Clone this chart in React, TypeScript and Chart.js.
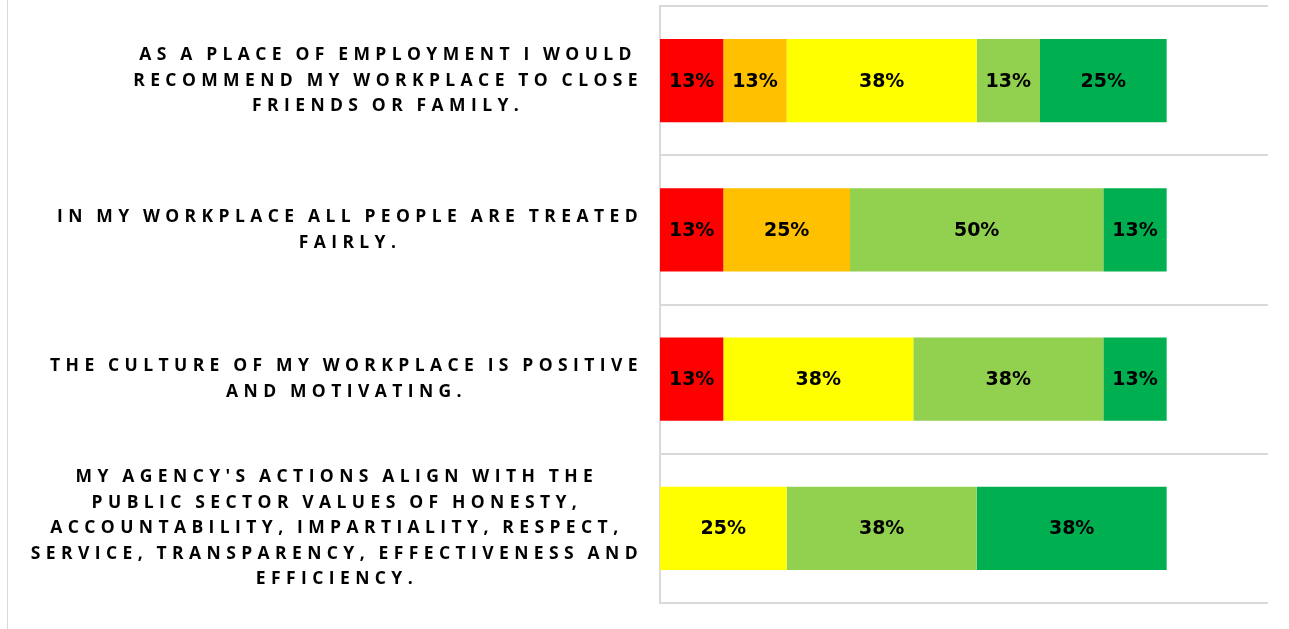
import React, { useEffect, useRef } from "react";
import { Chart, registerables } from "chart.js";

Chart.register(...registerables);

const categoryLines: string[][] = [
  ["AS A PLACE OF EMPLOYMENT I WOULD", "RECOMMEND MY WORKPLACE TO CLOSE", "FRIENDS OR FAMILY."],
  ["IN MY WORKPLACE ALL PEOPLE ARE TREATED", "FAIRLY."],
  ["THE CULTURE OF MY WORKPLACE IS POSITIVE", "AND MOTIVATING."],
  [
    "MY AGENCY'S ACTIONS ALIGN WITH THE",
    "PUBLIC SECTOR VALUES OF HONESTY,",
    "ACCOUNTABILITY, IMPARTIALITY, RESPECT,",
    "SERVICE, TRANSPARENCY, EFFECTIVENESS AND",
    "EFFICIENCY.",
  ],
];

const seriesNames = ["Strongly disagree", "Disagree", "Neutral", "Agree", "Strongly agree"];
const stronglyDisagree = [12.5, 12.5, 12.5, 0];
const disagree = [12.5, 25, 0, 0];
const neutral = [37.5, 0, 37.5, 25];
const agree = [12.5, 50, 37.5, 37.5];
const stronglyAgree = [25, 12.5, 12.5, 37.5];
const seriesColors = ["#FF0000", "#FFC000", "#FFFF00", "#92D050", "#00B050"];
const axisMax = 120;

const LABEL_FONT = "bold 17.5px 'Open Sans'";
const LABEL_SPACING = 5.4;
const WORD_SPACING = -1.5;
const LABEL_LINE = 25.5;
const VALUE_FONT = "bold 19px 'DejaVu Sans'";

const categoryLabelPlugin = {
  id: "categoryLabels",
  afterDraw(chart: any) {
    const { ctx, chartArea } = chart;
    const y = chart.scales.y;
    ctx.save();
    ctx.font = LABEL_FONT;
    (ctx as any).letterSpacing = LABEL_SPACING + "px";
    (ctx as any).wordSpacing = WORD_SPACING + "px";
    ctx.fillStyle = "#000000";
    ctx.textAlign = "center";
    ctx.textBaseline = "middle";
    const right = chartArea.left - 17;
    categoryLines.forEach((lines, i) => {
      const widest = Math.max(...lines.map((l) => ctx.measureText(l).width));
      const cx = right - widest / 2;
      const cy = y.getPixelForValue(i);
      const top = cy - ((lines.length - 1) * LABEL_LINE) / 2;
      lines.forEach((l, j) => ctx.fillText(l, cx, top + j * LABEL_LINE));
    });
    ctx.restore();
  },
};

const valueLabelPlugin = {
  id: "valueLabels",
  afterDatasetsDraw(chart: any) {
    const { ctx } = chart;
    ctx.save();
    ctx.font = VALUE_FONT;
    ctx.fillStyle = "#000000";
    ctx.textAlign = "center";
    ctx.textBaseline = "middle";
    chart.data.datasets.forEach((ds: any, di: number) => {
      const meta = chart.getDatasetMeta(di);
      meta.data.forEach((bar: any, i: number) => {
        const v = ds.data[i];
        if (!v) return;
        const { x, y, base } = bar.getProps(["x", "y", "base"], true);
        ctx.fillText(Math.round(v) + "%", (x + base) / 2, y + 1);
      });
    });
    ctx.restore();
  },
};

export default function App() {
  const ref = useRef<HTMLCanvasElement>(null);
  useEffect(() => {
    if (!ref.current) return;
    const values = [stronglyDisagree, disagree, neutral, agree, stronglyAgree];
    const chart = new Chart(ref.current, {
      type: "bar",
      data: {
        labels: categoryLines.map((l) => l.join(" ")),
        datasets: seriesNames.map((name, i) => ({
          label: name,
          data: values[i],
          backgroundColor: seriesColors[i],
          borderWidth: 0,
          barPercentage: 0.557,
          categoryPercentage: 1,
        })),
      },
      options: {
        indexAxis: "y",
        animation: false,
        responsive: true,
        maintainAspectRatio: false,
        layout: { padding: { left: 0, right: 21, top: 6, bottom: 26 } },
        plugins: { legend: { display: false }, tooltip: { enabled: false } },
        scales: {
          x: { stacked: true, min: 0, max: axisMax, display: false },
          y: {
            stacked: true,
            ticks: { display: false },
            grid: { color: "#d9d9d9", lineWidth: 2, drawTicks: false, offset: true },
            border: { display: true, color: "#d9d9d9", width: 2 },
            afterFit: (scale: any) => {
              scale.width = 652;
            },
          },
        },
      },
      plugins: [categoryLabelPlugin, valueLabelPlugin],
    });
    return () => chart.destroy();
  }, []);

  return (
    <div
      style={{
        position: "fixed",
        left: 7,
        top: 0,
        width: 1282,
        height: 629,
        borderLeft: "1px solid #d9d9d9",
        boxSizing: "border-box",
        background: "#ffffff",
      }}
    >
      <div style={{ position: "relative", width: "100%", height: "100%" }}>
        <canvas ref={ref} />
      </div>
    </div>
  );
}
